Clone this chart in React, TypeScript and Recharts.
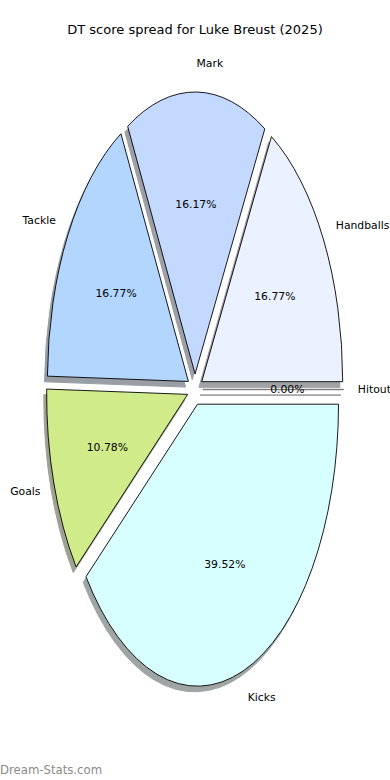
import React from 'react';
import { PieChart, Pie, Cell } from 'recharts';

const categories = ['Handballs', 'Mark', 'Tackle', 'Goals', 'Kicks', 'Hitout'];
const scores = [56, 54, 56, 36, 132, 0];
const colors = ['#EAF1FF', '#C4D9FF', '#B3D6FF', '#D0EB8A', '#D8FFFF', '#F2F2F2'];
const title = 'DT score spread for Luke Breust (2025)';
const watermark = 'Dream-Stats.com';

const data = categories.map((name, i) => ({ name, value: scores[i] }));

const W = 390;
const H = 780;
const CX = 195;
const CY = 389.5;
const RX = 141;
const ASPECT = 2;
const EXPLODE = 0.055;
const LABEL_DIST = 1.1;
const PCT_DIST = 0.6;
const SHADOW_DX = -0.02;
const SHADOW_DY = 0.02;
const FONT = '"DejaVu Sans", Verdana, sans-serif';
const RAD = Math.PI / 180;

function shadowOf(hex: string): string {
  const n = parseInt(hex.slice(1), 16);
  const r = Math.round(((n >> 16) & 255) * 0.3);
  const g = Math.round(((n >> 8) & 255) * 0.3);
  const b = Math.round((n & 255) * 0.3);
  return `rgb(${r},${g},${b})`;
}

function wedgePath(cx: number, cy: number, r: number, start: number, end: number): string {
  const mid = ((start + end) / 2) * RAD;
  const rx = r;
  const ry = r * ASPECT;
  const ax = cx + EXPLODE * rx * Math.cos(mid);
  const ay = cy - EXPLODE * ry * Math.sin(mid);
  const x1 = ax + rx * Math.cos(start * RAD);
  const y1 = ay - ry * Math.sin(start * RAD);
  const x2 = ax + rx * Math.cos(end * RAD);
  const y2 = ay - ry * Math.sin(end * RAD);
  const large = end - start > 180 ? 1 : 0;
  if (Math.abs(end - start) < 1e-9) {
    return `M${ax},${ay} L${x1},${y1}`;
  }
  return `M${ax},${ay} L${x1},${y1} A${rx},${ry} 0 ${large} 0 ${x2},${y2} Z`;
}

const WedgeShape = (props: any) => {
  const { cx, cy, outerRadius, startAngle, endAngle, fill } = props;
  const zero = Math.abs(endAngle - startAngle) < 1e-9;
  const d = wedgePath(cx, cy, outerRadius, startAngle, endAngle);
  return (
    <path
      d={d}
      fill={zero ? 'none' : fill}
      stroke="#000"
      strokeOpacity={zero ? 0.5 : 1}
      strokeWidth={zero ? 1.6 : 0.9}
      strokeLinejoin="round"
    />
  );
};

const ShadowShape = (props: any) => {
  const { cx, cy, outerRadius, startAngle, endAngle, fill } = props;
  const zero = Math.abs(endAngle - startAngle) < 1e-9;
  const d = wedgePath(
    cx + SHADOW_DX * outerRadius,
    cy + SHADOW_DY * outerRadius * ASPECT,
    outerRadius,
    startAngle,
    endAngle
  );
  return (
    <g opacity={0.5}>
      <path d={d} fill={zero ? 'none' : fill} stroke={fill} strokeWidth={zero ? 1.6 : 1} />
    </g>
  );
};

const renderLabel = (props: any) => {
  const { cx, cy, midAngle, outerRadius, percent, name } = props;
  const c = Math.cos(midAngle * RAD);
  const s = Math.sin(midAngle * RAD);
  const rx = outerRadius;
  const ry = outerRadius * ASPECT;
  const lx = cx + (EXPLODE + LABEL_DIST) * rx * c;
  const ly = cy - (EXPLODE + LABEL_DIST) * ry * s;
  const px = cx + (EXPLODE + PCT_DIST) * rx * c;
  const py = cy - (EXPLODE + PCT_DIST) * ry * s;
  const anchor = (EXPLODE + LABEL_DIST) * c > 0 ? 'start' : 'end';
  return (
    <g>
      <text x={lx} y={ly} textAnchor={anchor} dominantBaseline="central" fontFamily={FONT} fontSize={10.8} fill="#000">
        {name}
      </text>
      <text x={px} y={py} textAnchor="middle" dominantBaseline="central" fontFamily={FONT} fontSize={10.8} fill="#000">
        {((percent || 0) * 100).toFixed(2)}%
      </text>
    </g>
  );
};

export default function App() {
  return (
    <div style={{ position: 'absolute', left: 0, top: 0, width: W, height: H, background: '#fff' }}>
      <PieChart width={W} height={H} margin={{ top: 0, right: 0, bottom: 0, left: 0 }}>
        <Pie
          data={data}
          dataKey="value"
          nameKey="name"
          cx={CX}
          cy={CY}
          outerRadius={RX}
          innerRadius={0}
          startAngle={0}
          endAngle={360}
          isAnimationActive={false}
          label={false}
          labelLine={false}
          shape={ShadowShape}
          activeShape={ShadowShape}
          inactiveShape={ShadowShape}
          stroke="none"
        >
          {data.map((d, i) => (
            <Cell key={`s-${d.name}`} fill={shadowOf(colors[i])} />
          ))}
        </Pie>
        <Pie
          data={data}
          dataKey="value"
          nameKey="name"
          cx={CX}
          cy={CY}
          outerRadius={RX}
          innerRadius={0}
          startAngle={0}
          endAngle={360}
          isAnimationActive={false}
          label={renderLabel}
          labelLine={false}
          shape={WedgeShape}
          activeShape={WedgeShape}
          inactiveShape={WedgeShape}
        >
          {data.map((d, i) => (
            <Cell key={`w-${d.name}`} fill={colors[i]} />
          ))}
        </Pie>
      </PieChart>
      <svg width={W} height={H} style={{ position: 'absolute', left: 0, top: 0, pointerEvents: 'none' }}>
        <text x={W / 2} y={33.6} textAnchor="middle" fontFamily={FONT} fontSize={13} fill="#000">
          {title}
        </text>
        <text x={0} y={773.5} textAnchor="start" fontFamily={FONT} fontSize={11.7} fill="#8a8a8a">
          {watermark}
        </text>
      </svg>
    </div>
  );
}
